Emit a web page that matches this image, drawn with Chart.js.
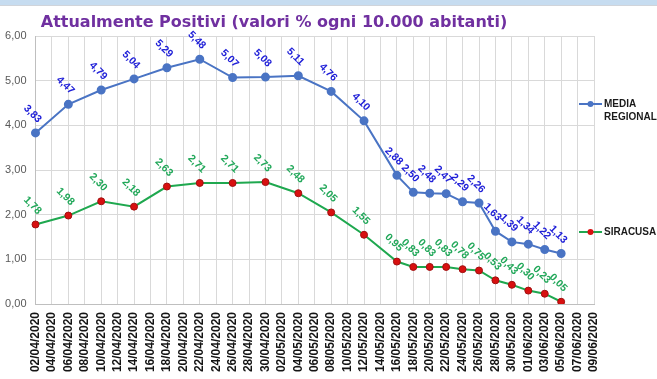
<!DOCTYPE html>
<html>
<head>
<meta charset="utf-8">
<script src="https://cdn.jsdelivr.net/npm/chart.js@4.4.0/dist/chart.umd.min.js"></script>
<style>
  html, body { margin: 0; padding: 0; background: #ffffff; }
  #wrap { position: relative; width: 657px; height: 379px; }
  #topBand { position: absolute; left: 0; top: 0; width: 657px; height: 5px; background: #c6dcf0; border-bottom: 1px solid #d0d4da; }
</style>
</head>
<body>
<div id="wrap">
  <div id="topBand"></div>
  <canvas id="chartPositivi" width="657" height="379"></canvas>
</div>
<script>
// Date sull'asse X (una ogni due giorni)
const dateLabels = [
  '02/04/2020', '04/04/2020', '06/04/2020', '08/04/2020', '10/04/2020',
  '12/04/2020', '14/04/2020', '16/04/2020', '18/04/2020', '20/04/2020',
  '22/04/2020', '24/04/2020', '26/04/2020', '28/04/2020', '30/04/2020',
  '02/05/2020', '04/05/2020', '06/05/2020', '08/05/2020', '10/05/2020',
  '12/05/2020', '14/05/2020', '16/05/2020', '18/05/2020', '20/05/2020',
  '22/05/2020', '24/05/2020', '26/05/2020', '28/05/2020', '30/05/2020',
  '01/06/2020', '03/06/2020', '05/06/2020', '07/06/2020', '09/06/2020'
];

// Giorni con rilevazione
const giorniRilevati = [
  '02/04/2020', '06/04/2020', '10/04/2020', '14/04/2020', '18/04/2020',
  '22/04/2020', '26/04/2020', '30/04/2020', '04/05/2020', '08/05/2020',
  '12/05/2020', '16/05/2020', '18/05/2020', '20/05/2020', '22/05/2020',
  '24/05/2020', '26/05/2020', '28/05/2020', '30/05/2020', '01/06/2020',
  '03/06/2020', '05/06/2020'
];

// Positivi ogni 10.000 abitanti
const mediaRegionale = [
  3.83, 4.47, 4.79, 5.04, 5.29, 5.48, 5.07, 5.08, 5.11, 4.76, 4.10,
  2.88, 2.50, 2.48, 2.47, 2.29, 2.26, 1.63, 1.39, 1.34, 1.22, 1.13
];
const siracusa = [
  1.78, 1.98, 2.30, 2.18, 2.63, 2.71, 2.71, 2.73, 2.48, 2.05, 1.55,
  0.95, 0.83, 0.83, 0.83, 0.78, 0.75, 0.53, 0.43, 0.30, 0.23, 0.05
];

const yTicks = [0, 1, 2, 3, 4, 5, 6];

// Allinea i valori alle date dell'asse (null dove manca il dato)
function sullAsse(valori) {
  return dateLabels.map(d => {
    const i = giorniRilevati.indexOf(d);
    return i >= 0 ? valori[i] : null;
  });
}

const formatta = v => v.toFixed(2).replace('.', ',');

// Etichette dei valori, ruotate di 45 gradi sopra ogni punto
const etichettePlugin = {
  id: 'etichetteValori',
  afterDatasetsDraw(chart) {
    const ctx = chart.ctx;
    chart.data.datasets.forEach((ds, di) => {
      const meta = chart.getDatasetMeta(di);
      ctx.save();
      ctx.font = 'bold 10.5px "Liberation Sans", Arial, sans-serif';
      ctx.fillStyle = ds.labelColor;
      ctx.textAlign = 'center';
      ctx.textBaseline = 'middle';
      meta.data.forEach((pt, i) => {
        const v = ds.data[i];
        if (v === null || v === undefined) return;
        ctx.save();
        ctx.translate(pt.x - 3, pt.y - 19);
        ctx.rotate(Math.PI / 4);
        ctx.fillText(formatta(v), 0, 0);
        ctx.restore();
      });
      ctx.restore();
    });
  }
};

// Titolo e legenda a destra
const decorazioniPlugin = {
  id: 'decorazioni',
  afterDraw(chart) {
    const ctx = chart.ctx;
    ctx.save();
    ctx.font = 'bold 16px "DejaVu Sans", Verdana, sans-serif';
    ctx.fillStyle = '#7030a0';
    ctx.textAlign = 'center';
    ctx.textBaseline = 'alphabetic';
    ctx.fillText('Attualmente Positivi (valori % ogni 10.000 abitanti)', 274, 27);

    const voci = [
      { ds: chart.data.datasets[0], y: 104, righe: ['MEDIA', 'REGIONAL'] },
      { ds: chart.data.datasets[1], y: 232, righe: ['SIRACUSA'] }
    ];
    voci.forEach(v => {
      ctx.strokeStyle = v.ds.borderColor;
      ctx.lineWidth = 2;
      ctx.beginPath();
      ctx.moveTo(579, v.y);
      ctx.lineTo(602, v.y);
      ctx.stroke();
      ctx.beginPath();
      ctx.arc(590.5, v.y, 3, 0, Math.PI * 2);
      ctx.fillStyle = v.ds.pointBackgroundColor;
      ctx.fill();
      ctx.font = 'bold 10px "Liberation Sans", Arial, sans-serif';
      ctx.fillStyle = '#1a1a1a';
      ctx.textAlign = 'left';
      ctx.textBaseline = 'middle';
      v.righe.forEach((r, k) => ctx.fillText(r, 604, v.y + k * 13.5));
    });
    ctx.restore();
  }
};

const ctx = document.getElementById('chartPositivi').getContext('2d');
const chart = new Chart(ctx, {
  type: 'line',
  data: {
    labels: dateLabels,
    datasets: [
      {
        label: 'MEDIA REGIONAL',
        data: sullAsse(mediaRegionale),
        borderColor: '#4a74c4',
        backgroundColor: '#4a74c4',
        pointBackgroundColor: '#4a74c4',
        pointBorderColor: '#4a74c4',
        pointRadius: 3.5,
        borderWidth: 2,
        tension: 0,
        spanGaps: true,
        labelColor: '#2020d8'
      },
      {
        label: 'SIRACUSA',
        data: sullAsse(siracusa),
        borderColor: '#1fa84f',
        backgroundColor: '#1fa84f',
        pointBackgroundColor: '#d81010',
        pointBorderColor: '#a01010',
        pointBorderWidth: 1,
        pointRadius: 3.5,
        borderWidth: 2,
        tension: 0,
        spanGaps: true,
        labelColor: '#22a85a'
      }
    ]
  },
  options: {
    responsive: false,
    animation: false,
    devicePixelRatio: 1,
    layout: { padding: { top: 36, right: 63, left: 0, bottom: 0 } },
    plugins: {
      legend: { display: false },
      title: { display: false },
      tooltip: { enabled: false }
    },
    scales: {
      x: {
        offset: false,
        grid: { color: '#d9d9d9', drawTicks: false, offset: false },
        border: { color: '#bfbfbf' },
        ticks: {
          autoSkip: false,
          maxRotation: 90,
          minRotation: 90,
          padding: 8,
          color: '#141414',
          font: { family: '"Liberation Sans", Arial, sans-serif', size: 12, weight: 'bold' }
        },
        afterFit(scale) { scale.height = 75; }
      },
      y: {
        min: 0,
        max: 6,
        afterBuildTicks(scale) { scale.ticks = yTicks.map(v => ({ value: v })); },
        grid: { color: '#d9d9d9', drawTicks: false },
        border: { color: '#bfbfbf' },
        ticks: {
          padding: 9,
          color: '#595959',
          font: { family: '"Liberation Sans", Arial, sans-serif', size: 11 },
          callback: v => formatta(v)
        },
        afterFit(scale) { scale.width = 35.5; }
      }
    }
  },
  plugins: [etichettePlugin, decorazioniPlugin]
});
</script>
</body>
</html>
